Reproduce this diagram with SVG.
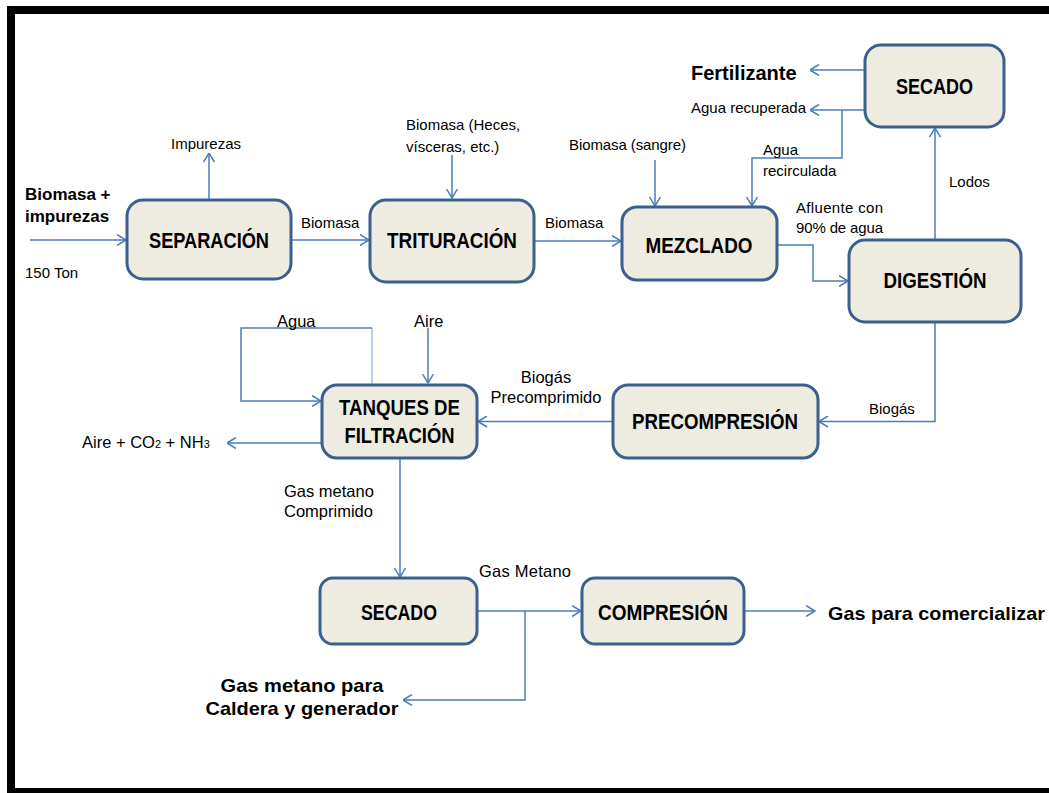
<svg xmlns="http://www.w3.org/2000/svg" width="1049" height="793" viewBox="0 0 1049 793">
<style>
.box{fill:#eeece1;stroke:#3b5f8e;stroke-width:3}
.nl{font-family:"Liberation Sans Narrow","Liberation Sans",Arial,sans-serif;font-weight:bold;font-size:22px;fill:#000;text-anchor:middle}
.lb{font-family:"Liberation Sans",Arial,sans-serif;font-size:15px;fill:#000}
.lb2{font-family:"Liberation Sans",Arial,sans-serif;font-size:16.5px;fill:#000}
.bl{font-family:"Liberation Sans",Arial,sans-serif;font-weight:bold;fill:#000}
.c{fill:none;stroke:#4a7ebb;stroke-width:1.5;marker-end:url(#ar)}
</style>
<defs>
<marker id="ar" viewBox="0 0 10 12" refX="9.5" refY="6" markerWidth="10" markerHeight="12" markerUnits="userSpaceOnUse" orient="auto">
<path d="M0.5,0.5 L9.5,6 L0.5,11.5" fill="none" stroke="#4a7ebb" stroke-width="1.5"/>
</marker>
</defs>
<rect width="1049" height="793" fill="#fff"/>
<g id="frame" fill="#000">
<rect x="7" y="6" width="1042" height="8"/>
<rect x="7" y="6" width="8" height="787"/>
<rect x="7" y="788" width="1042" height="5"/>
</g>
<g id="connectors">
<path class="c" d="M30,240 H126"/>
<path class="c" d="M209,199 V153"/>
<path class="c" d="M291,240 H369"/>
<path class="c" d="M452,155 V198"/>
<path class="c" d="M534,241 H621"/>
<path class="c" d="M655,160 V206"/>
<path class="c" d="M865,70 H810"/>
<path class="c" d="M865,110 H810"/>
<path class="c" d="M842,110 V158 H752 V206"/>
<path class="c" d="M777,245 H813 V281 H848"/>
<path class="c" d="M935,240 V128"/>
<path class="c" d="M935,322 V421.5 H819"/>
<path class="c" d="M613,421.5 H478"/>
<path class="c" d="M428,328 V383"/>
<path fill="none" stroke="#8fb0dc" stroke-width="1.2" d="M372,384 V328"/>
<path class="c" d="M372,328 H241 V401 H321"/>
<path class="c" d="M322,443 H227"/>
<path class="c" d="M400,458 V577"/>
<path class="c" d="M477,611 H581"/>
<path class="c" d="M525,611 V700 H403"/>
<path class="c" d="M744,611 H815"/>
</g>
<g id="separacion">
<rect class="box" x="127" y="200" width="164" height="79" rx="16"/>
<text class="nl" x="209" y="248" textLength="120" lengthAdjust="spacingAndGlyphs">SEPARACIÓN</text>
</g>
<g id="trituracion">
<rect class="box" x="370" y="200" width="164" height="82" rx="16"/>
<text class="nl" x="452" y="248" textLength="130" lengthAdjust="spacingAndGlyphs">TRITURACIÓN</text>
</g>
<g id="mezclado">
<rect class="box" x="622" y="207" width="155" height="73" rx="15"/>
<text class="nl" x="699" y="253" textLength="107" lengthAdjust="spacingAndGlyphs">MEZCLADO</text>
</g>
<g id="digestion">
<rect class="box" x="849" y="240" width="172" height="82" rx="16"/>
<text class="nl" x="935" y="288" textLength="103" lengthAdjust="spacingAndGlyphs">DIGESTIÓN</text>
</g>
<g id="secado1">
<rect class="box" x="865" y="45" width="139" height="82" rx="16"/>
<text class="nl" x="934.5" y="94" textLength="77" lengthAdjust="spacingAndGlyphs">SECADO</text>
</g>
<g id="precompresion">
<rect class="box" x="613" y="385" width="205" height="73" rx="15"/>
<text class="nl" x="715" y="429" textLength="166" lengthAdjust="spacingAndGlyphs">PRECOMPRESIÓN</text>
</g>
<g id="tanques">
<rect class="box" x="322" y="385" width="155" height="73" rx="15"/>
<text class="nl" x="399.5" y="415" textLength="121" lengthAdjust="spacingAndGlyphs">TANQUES DE</text>
<text class="nl" x="399.5" y="443" textLength="110" lengthAdjust="spacingAndGlyphs">FILTRACIÓN</text>
</g>
<g id="secado2">
<rect class="box" x="320" y="578" width="157" height="66" rx="13"/>
<text class="nl" x="399" y="620" textLength="76" lengthAdjust="spacingAndGlyphs">SECADO</text>
</g>
<g id="compresion">
<rect class="box" x="582" y="578" width="162" height="66" rx="13"/>
<text class="nl" x="663" y="620" textLength="130" lengthAdjust="spacingAndGlyphs">COMPRESIÓN</text>
</g>
<g id="labels">
<text class="bl" font-size="17" x="25" y="200">Biomasa +</text>
<text class="bl" font-size="17" x="25" y="222">impurezas</text>
<text class="lb" font-size="14.5" x="25" y="278">150 Ton</text>
<text class="lb" x="171" y="149">Impurezas</text>
<text class="lb" x="301" y="228">Biomasa</text>
<text class="lb" x="406" y="130">Biomasa (Heces,</text>
<text class="lb" x="406" y="152">vísceras, etc.)</text>
<text class="lb" x="545" y="228">Biomasa</text>
<text class="lb" x="569" y="150" textLength="117">Biomasa (sangre)</text>
<text class="bl" font-size="20" x="691" y="80">Fertilizante</text>
<text class="lb" x="691" y="113" textLength="115">Agua recuperada</text>
<text class="lb" x="763" y="155">Agua</text>
<text class="lb" x="763" y="176">recirculada</text>
<text class="lb" x="949" y="187">Lodos</text>
<text class="lb" x="796" y="213" textLength="87">Afluente con</text>
<text class="lb" x="796" y="233" textLength="87">90% de agua</text>
<text class="lb" font-size="14.5" x="869" y="414">Biogás</text>
<text class="lb2" font-size="17" x="546" y="383" text-anchor="middle">Biogás</text>
<text class="lb2" font-size="17" x="546" y="403" text-anchor="middle">Precomprimido</text>
<text class="lb2" x="277" y="327">Agua</text>
<text class="lb2" x="414" y="327">Aire</text>
<text class="lb2" font-size="17" x="82" y="448">Aire + CO<tspan font-size="11">2</tspan> + NH<tspan font-size="11">3</tspan></text>
<text class="lb2" x="284" y="497">Gas metano</text>
<text class="lb2" x="284" y="517">Comprimido</text>
<text class="lb2" x="479" y="577" textLength="92">Gas Metano</text>
<text class="bl" font-size="19" x="828" y="620" textLength="217" lengthAdjust="spacingAndGlyphs">Gas para comercializar</text>
<text class="bl" font-size="19" x="302" y="692" text-anchor="middle" textLength="163" lengthAdjust="spacingAndGlyphs">Gas metano para</text>
<text class="bl" font-size="19" x="302" y="715" text-anchor="middle" textLength="193" lengthAdjust="spacingAndGlyphs">Caldera y generador</text>
</g>
</svg>
